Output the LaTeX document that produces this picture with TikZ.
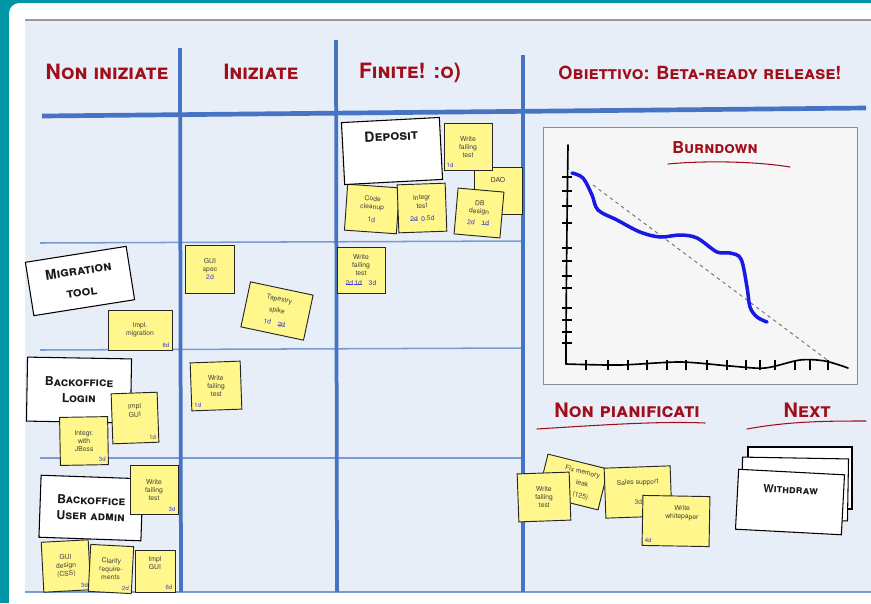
\documentclass[tikz,border=0pt]{standalone}
\usepackage{fontspec}
\setmainfont{TeX Gyre Heros}
\usetikzlibrary{positioning}

\definecolor{frameteal}{RGB}{0,150,166}
\definecolor{boardbg}{RGB}{232,238,248}
\definecolor{boardline}{RGB}{70,115,195}
\definecolor{rowline}{RGB}{120,155,210}
\definecolor{titlered}{RGB}{160,15,25}
\definecolor{postit}{RGB}{255,247,140}
\definecolor{estblue}{RGB}{60,60,200}
\definecolor{chartbg}{RGB}{246,246,246}
\definecolor{burnblue}{RGB}{25,25,230}

% struck-out estimate
\newcommand{\strk}[1]{\setbox0\hbox{#1}\rlap{\rule[0.3ex]{\wd0}{0.4pt}}\box0}
\newcommand{\headfont}[1]{\fontsize{#1}{#1}\selectfont\bfseries\scshape}

\tikzset{
  sticky/.style={draw=black!85, line width=0.8pt, fill=postit, align=center,
    font=\fontsize{5.8}{7}\selectfont, text=black!75, inner sep=1pt,
    minimum width=1.44cm, minimum height=1.44cm},
  sz/.style 2 args={minimum width=#1*0.03cm, minimum height=#2*0.03cm},
  card/.style={draw=black, line width=0.9pt, fill=white, align=center,
    font=\headfont{10.5}, text=black!90},
  est/.style={font=\fontsize{5.2}{5.2}\selectfont, text=estblue, inner sep=2.5pt},
  colhead/.style={font=\headfont{18}, text=titlered},
  boardrule/.style={boardline, line width=3.2pt},
  rowrule/.style={rowline, line width=1.3pt},
  scribble/.style={titlered, line width=0.9pt, line cap=round},
}

\begin{document}
\begin{tikzpicture}[x=0.03cm,y=-0.03cm]
\useasboundingbox (0,0) rectangle (871,603);

% frame and board
\fill[frameteal] (0,0) rectangle (871,603);
\fill[white, rounded corners=9] (9,3) rectangle (890,620);
\fill[boardbg] (25,20) rectangle (871,592);
\draw[black!40, line width=1.5pt] (25,20) -- (871,20);
\draw[rowline, line width=1.5pt] (25,592) -- (871,592);

% columns and rows
\draw[rowrule] (40,243) -- (523,241);
\draw[rowrule] (40,350) -- (523,348);
\draw[rowrule] (40,458) -- (523,458);
\draw[boardrule] (180,48) -- (181,592);
\draw[boardrule] (336,40) -- (337,592);
\draw[boardrule] (523,55) -- (523,592);
\draw[boardrule, line width=4pt] (42,116) -- (866,108);

\node[colhead] (h1) at (107,72) {Non iniziate};
\node[colhead] (h2) at (261,72) {Iniziate};
\node[colhead] (h3) at (410,73) {Finite! :o)};
\node[colhead, font=\headfont{15.5}] (h4) at (700,73) {Obiettivo: Beta-ready release!};

% --- non iniziate
\node[card, sz={102}{54}, rotate=9, font=\headfont{11.5}] (mig) at (80,281) {Migration\\[7pt]tool};
\node[sticky, sz={64}{40}] (implmig) at (140,330) {Impl.\\migration};
\node[est, anchor=south east] at (implmig.south east) {8d};

\node[card, sz={104}{64}, rotate=-1] (login) at (79,390) {Backoffice\\[3pt]Login};
\node[sticky, sz={46}{50}, rotate=2] (implgui1) at (135,418) {Impl\\GUI\\[6pt]};
\node[est, anchor=south east, rotate=2] at (implgui1.south east) {1d};
\node[sticky, sz={48}{48}, rotate=1] (jboss) at (84,441) {Integr.\\with\\JBoss};
\node[est, anchor=south east, rotate=1] at (jboss.south east) {3d};

\node[card, sz={102}{62}, rotate=-2] (useradm) at (91,508) {Backoffice\\[3pt]User admin};
\node[sticky, sz={48}{49}] (wft1) at (154,490) {Write\\failing\\test};
\node[est, anchor=south east] at (wft1.south east) {3d};
\node[sticky, sz={47}{50}, rotate=3] (css) at (66,566) {GUI\\design\\(CSS)};
\node[est, anchor=south east, rotate=3] at (css.south east) {3d};
\node[sticky, sz={43}{47}, rotate=-3] (clarify) at (111,569) {Clarify\\require-\\ments};
\node[est, anchor=south east, rotate=-3] at (clarify.south east) {2d};
\node[sticky, sz={40}{42}] (implgui2) at (155,571) {Impl\\GUI\\[6pt]};
\node[est, anchor=south east] at (implgui2.south east) {6d};

% --- iniziate
\node[sticky, sz={49}{48}] (guispec) at (210,269) {GUI\\spec\\{\color{estblue}2d}};
\node[sticky, sz={64}{46}, rotate=-12] (tapestry) at (277,311) {Tapestry\\[3pt]spike\\[4pt]{\color{estblue}1d\quad\strk{2d}}};
\node[sticky, sz={50}{48}, rotate=2] (wft2) at (216,386) {Write\\failing\\test};
\node[est, anchor=south west, rotate=2] at (wft2.south west) {1d};

% --- finite
\node[sticky, sz={48}{47}] (dao) at (498,191) {DAO\\[12pt]};
\node[sticky, sz={48}{47}] (wft3) at (468,147) {Write\\failing\\test};
\node[est, anchor=south west] at (wft3.south west) {1d};
\node[sticky, sz={52}{46}, rotate=-4] (cleanup) at (372,209) {Code\\cleanup\\[4pt]{\color{estblue}1d}};
\node[sticky, sz={48}{48}, rotate=2] (integr) at (422,208) {Integr\\test\\[4pt]{\color{estblue}\strk{2d}\enspace 0.5d}};
\node[sticky, sz={46}{46}, rotate=-5] (dbdesign) at (479,213) {DB\\design\\[3pt]{\color{estblue}2d\quad\strk{1d}}};
\node[card, sz={98}{62}, rotate=3, font=\headfont{12}] (deposit) at (392,151) {Deposit\\[14pt]};
\node[sticky, sz={48}{46}] (wft4) at (361,270) {Write\\failing\\test\\[1pt]{\color{estblue}\strk{2d}\,\strk{1d}\quad 3d}};

% --- obiettivo: burndown
\draw[fill=chartbg, draw=black!45, line width=0.8pt] (543,127) rectangle (857,384);
\node[colhead, font=\headfont{14}] (burn) at (715,148) {Burndown};
\draw[scribble] (668,164) .. controls (710,160) and (760,162) .. (790,167);
\draw[line width=1.4pt, line cap=round] (568,145) .. controls (567,220) and (566,300) .. (566,364);
\draw[line width=1.4pt, line cap=round] plot[smooth] coordinates {(566,364) (620,365) (680,362) (730,366) (765,368) (800,360) (825,361) (848,368)};
\foreach \y in {177,191,206,223,248,261,276,288,308,320,332,343}
  \draw[line width=0.9pt] (562,\y) -- (572,\y);
\foreach \x in {586,608,628,647,667,686,707,727,746,760,775,795,810,828}
  \draw[line width=0.9pt] (\x,360) -- (\x,370);
\draw[dashed, black!55, line width=0.8pt] (593,185) -- (830,362);
\draw[burnblue, line width=3pt, line cap=round] plot[smooth, tension=0.55] coordinates {(572,173) (583,178) (592,195) (598,210) (617,220) (640,232) (660,237) (680,235) (697,238) (717,252) (730,253) (741,259) (747,287) (750,307) (757,317) (767,322)};

% --- non pianificati / next
\node[colhead, font=\headfont{17}] (unplanned) at (627,410) {Non pianificati};
\draw[scribble] (537,429) .. controls (600,425) and (660,421) .. (705,423);
\node[colhead, font=\headfont{17}] (next) at (807,410) {Next};
\draw[scribble] (747,429) .. controls (790,421) and (830,421) .. (866,421);

\node[sticky, sz={62}{42}, rotate=-14] (leak) at (573,482) {\hspace*{12pt}Fix memory\\[3pt]\hspace*{16pt}leak\\[3pt]\hspace*{18pt}(125)};
\node[sticky, sz={52}{48}, rotate=2] (wft5) at (544,497) {Write\\failing\\test};
\node[sticky, sz={66}{50}, rotate=2] (sales) at (638,492) {Sales support\\[10pt]{\color{estblue}3d}\hspace{12pt}};
\node[sticky, sz={67}{50}, rotate=-1] (paper) at (676,521) {\hspace{10pt}Write\\\hspace{10pt}whitepaper\\[8pt]};
\node[est, anchor=south west, rotate=-1] at (paper.south west) {4d};

\node[card, sz={104}{62}] (back1) at (800,478) {};
\node[card, sz={106}{62}, rotate=-1] (back2) at (795,489) {};
\node[card, sz={106}{60}, rotate=-3, font=\headfont{9.5}] (withdraw) at (790,502) {Withdraw\\[12pt]};
\end{tikzpicture}
\end{document}
